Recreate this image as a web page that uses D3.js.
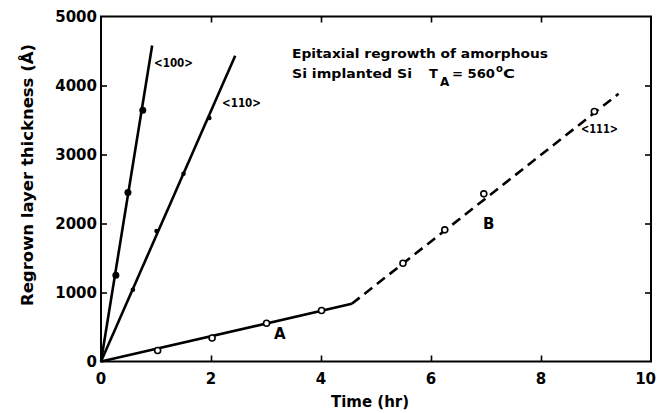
<!DOCTYPE html>
<meta charset="utf-8">
<html>
  <head>
    <style>
      body { margin: 0; background: #fff; }
      text { font-family: "DejaVu Sans", "Liberation Sans", sans-serif; font-weight: bold; fill: #000; }
      .tick-label { font-size: 15px; }
      .note { font-size: 13px; }
      .dir { font-size: 13px; }
    </style>
    <script src="https://cdn.jsdelivr.net/npm/d3@7"></script>
  </head>
  <body>
    <div id="chart"></div>
    <script>
      // measured points (time in hr, thickness in A)
      var t100 = [0.27, 0.49, 0.76],
          th100 = [1250, 2450, 3640];
      var t110 = [0.58, 1.01, 1.50, 1.97],
          th110 = [1040, 1890, 2720, 3530];
      var tA = [1.03, 2.02, 3.01, 4.01],
          thA = [160, 340, 555, 740];
      var tB = [5.49, 6.25, 6.96, 8.97],
          thB = [1425, 1908, 2430, 3623];
      // fitted lines
      var fit100 = [[0, 0], [0.93, 4580]],
          fit110 = [[0, 0], [2.44, 4430]],
          fitA = [[0, 0], [4.56, 836]],
          fitB = [[4.56, 836], [9.41, 3880]];
      var xTicks = [0, 2, 4, 6, 8, 10],
          yTicks = [0, 1000, 2000, 3000, 4000, 5000];

      var W = 657, H = 413;
      var x = d3.scaleLinear().domain([0, 10]).range([101, 651]);
      var y = d3.scaleLinear().domain([0, 5000]).range([361.5, 16.5]);

      var svg = d3.select("#chart").append("svg")
          .attr("width", W).attr("height", H);

      // frame
      svg.append("rect")
        .attr("x", x(0)).attr("y", y(5000))
        .attr("width", x(10) - x(0)).attr("height", y(0) - y(5000))
        .attr("fill", "none").attr("stroke", "#000").attr("stroke-width", 2);

      // inward ticks on all four sides
      var tl = 6;
      svg.append("g").attr("transform", "translate(0," + y(0) + ")")
        .call(d3.axisTop(x).tickValues(xTicks.slice(1, -1)).tickSize(tl).tickFormat(""))
        .call(function(g) { g.select(".domain").remove(); });
      svg.append("g").attr("transform", "translate(0," + y(5000) + ")")
        .call(d3.axisBottom(x).tickValues(xTicks.slice(1, -1)).tickSize(tl).tickFormat(""))
        .call(function(g) { g.select(".domain").remove(); });
      svg.append("g").attr("transform", "translate(" + x(0) + ",0)")
        .call(d3.axisRight(y).tickValues(yTicks.slice(1, -1)).tickSize(tl).tickFormat(""))
        .call(function(g) { g.select(".domain").remove(); });
      svg.append("g").attr("transform", "translate(" + x(10) + ",0)")
        .call(d3.axisLeft(y).tickValues(yTicks.slice(1, -1)).tickSize(tl).tickFormat(""))
        .call(function(g) { g.select(".domain").remove(); });
      svg.selectAll(".tick line").attr("stroke", "#000").attr("stroke-width", 1.6);

      // tick labels (last x label pulled in so it stays on the page)
      svg.selectAll(".xl").data(xTicks).enter().append("text")
        .attr("class", "tick-label")
        .attr("x", function(d, i) { return i == xTicks.length - 1 ? 656 : x(d); })
        .attr("y", 384)
        .style("text-anchor", function(d, i) { return i == xTicks.length - 1 ? "end" : "middle"; })
        .text(function(d) { return d; });
      svg.selectAll(".yl").data(yTicks).enter().append("text")
        .attr("class", "tick-label")
        .attr("x", 97)
        .attr("y", function(d) { return y(d) + 5.5; })
        .style("text-anchor", "end")
        .text(function(d) { return d; });

      // axis titles
      svg.append("text").attr("class", "tick-label")
        .attr("x", 370).attr("y", 407)
        .style("text-anchor", "middle")
        .text("Time (hr)");
      svg.append("text").attr("class", "tick-label")
        .attr("transform", "translate(33,175) rotate(-90)")
        .style("text-anchor", "middle")
        .attr("textLength", 262).attr("lengthAdjust", "spacingAndGlyphs")
        .text("Regrown layer thickness (Å)");

      // lines
      var line = d3.line().x(function(d) { return x(d[0]); }).y(function(d) { return y(d[1]); });
      [fit100, fit110, fitA].forEach(function(f) {
        svg.append("path").datum(f).attr("d", line)
          .attr("fill", "none").attr("stroke", "#000").attr("stroke-width", 2.6);
      });
      svg.append("path").datum(fitB).attr("d", line)
        .attr("fill", "none").attr("stroke", "#000").attr("stroke-width", 2.6)
        .attr("stroke-dasharray", "10,6");

      // markers
      svg.selectAll(".p100").data(t100).enter().append("circle")
        .attr("cx", function(d) { return x(d); })
        .attr("cy", function(d, i) { return y(th100[i]); })
        .attr("r", 3.5).attr("fill", "#000");
      svg.selectAll(".p110").data(t110).enter().append("circle")
        .attr("cx", function(d) { return x(d); })
        .attr("cy", function(d, i) { return y(th110[i]); })
        .attr("r", 2.3).attr("fill", "#000");
      svg.selectAll(".pA").data(tA).enter().append("circle")
        .attr("cx", function(d) { return x(d); })
        .attr("cy", function(d, i) { return y(thA[i]); })
        .attr("r", 3).attr("fill", "#fff").attr("stroke", "#000").attr("stroke-width", 1.6);
      svg.selectAll(".pB").data(tB).enter().append("circle")
        .attr("cx", function(d) { return x(d); })
        .attr("cy", function(d, i) { return y(thB[i]); })
        .attr("r", 3).attr("fill", "#fff").attr("stroke", "#000").attr("stroke-width", 1.6);

      // direction labels
      svg.append("text").attr("class", "dir").attr("x", 154).attr("y", 67)
        .attr("textLength", 39).attr("lengthAdjust", "spacingAndGlyphs").text("<100>");
      svg.append("text").attr("class", "dir").attr("x", 222).attr("y", 107)
        .attr("textLength", 39).attr("lengthAdjust", "spacingAndGlyphs").text("<110>");
      svg.append("text").attr("class", "dir").attr("x", 581).attr("y", 133)
        .attr("textLength", 37).attr("lengthAdjust", "spacingAndGlyphs").text("<111>");
      svg.append("text").attr("class", "tick-label").attr("x", 274).attr("y", 339).text("A");
      svg.append("text").attr("class", "tick-label").attr("x", 483).attr("y", 229).text("B");

      // annotation
      svg.append("text").attr("class", "note").attr("x", 292).attr("y", 58)
        .attr("textLength", 256).attr("lengthAdjust", "spacingAndGlyphs")
        .text("Epitaxial regrowth of amorphous");
      svg.append("text").attr("class", "note").attr("x", 292).attr("y", 78)
        .attr("textLength", 120).attr("lengthAdjust", "spacingAndGlyphs")
        .text("Si implanted Si");
      svg.append("text").attr("class", "note").attr("x", 429).attr("y", 78).text("T");
      svg.append("text").attr("class", "note").style("font-size", "12px")
        .attr("x", 440).attr("y", 86).text("A");
      svg.append("text").attr("class", "note").attr("x", 452).attr("y", 78)
        .attr("textLength", 43).attr("lengthAdjust", "spacingAndGlyphs").text("= 560");
      svg.append("text").attr("class", "note").style("font-size", "10px")
        .attr("x", 496).attr("y", 72).text("o");
      svg.append("text").attr("class", "note").attr("x", 503).attr("y", 78)
        .attr("textLength", 12).attr("lengthAdjust", "spacingAndGlyphs").text("C");
    </script>
  </body>
</html>
